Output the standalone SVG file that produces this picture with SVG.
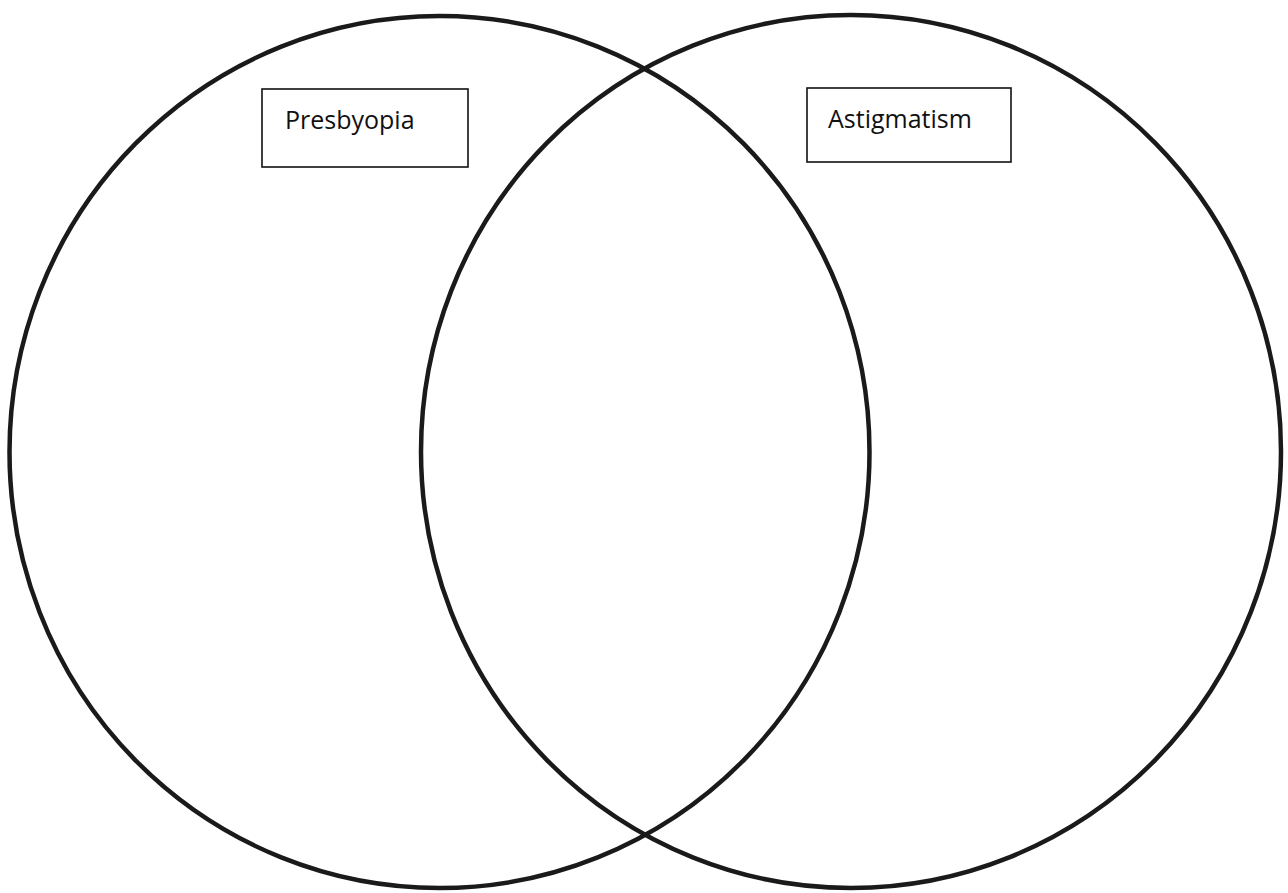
<svg xmlns="http://www.w3.org/2000/svg" width="1288" height="893" viewBox="0 0 1288 893">
<style>
.circle{fill:none;stroke:#1a1a1a;stroke-width:4.5}
.box{fill:#fff;stroke:#111;stroke-width:1.6}
.lbl{font-family:"Open Sans","Liberation Sans",sans-serif;font-size:25px;fill:#111}
</style>
<rect width="1288" height="893" fill="#fff"/>
<g id="set-left"><ellipse class="circle" cx="439.5" cy="452" rx="430" ry="436"/></g>
<g id="set-right"><ellipse class="circle" cx="851" cy="451.5" rx="430" ry="436.5"/></g>
<g id="label-presbyopia"><rect class="box" x="262" y="89" width="206" height="78"/><text class="lbl" x="285" y="129">Presbyopia</text></g>
<g id="label-astigmatism"><rect class="box" x="807" y="88" width="204" height="74"/><text class="lbl" x="828" y="128">Astigmatism</text></g>
<g id="connectors"></g>
</svg>
